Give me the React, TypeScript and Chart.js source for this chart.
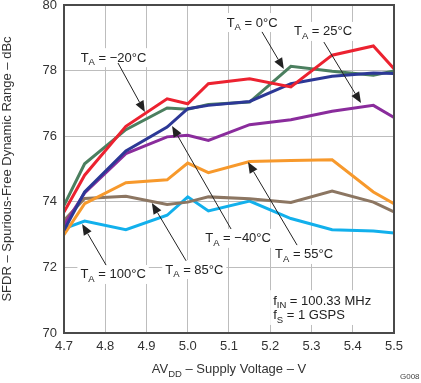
import React, { useEffect, useRef } from "react";
import { Chart, registerables } from "chart.js";

Chart.register(...registerables);

const voltages = [4.7, 4.75, 4.85, 4.95, 5.0, 5.05, 5.15, 5.25, 5.35, 5.45, 5.5];
const sfdrMinus20 = [73.69, 74.81, 76.3, 77.14, 76.99, 77.6, 77.75, 77.5, 78.47, 78.75, 78.06];
const sfdrMinus40 = [73.13, 74.3, 75.55, 76.28, 76.84, 76.94, 77.06, 77.6, 77.83, 77.93, 77.91];
const sfdr0 = [73.89, 75.16, 76.2, 76.86, 76.82, 76.97, 77.04, 78.13, 77.98, 77.86, 77.99];
const sfdr25 = [73.28, 74.27, 75.47, 75.98, 76.03, 75.87, 76.35, 76.5, 76.76, 76.94, 76.57];
const sfdr55 = [73.0, 73.94, 74.58, 74.67, 75.18, 74.89, 75.23, 75.26, 75.28, 74.3, 73.94];
const sfdr85 = [73.43, 74.1, 74.17, 73.92, 73.99, 74.15, 74.09, 73.98, 74.33, 73.99, 73.69];
const sfdr100 = [73.18, 73.41, 73.15, 73.59, 74.15, 73.72, 74.02, 73.49, 73.15, 73.11, 73.05];

const seriesLabels = ["−20°C", "−40°C", "0°C", "25°C", "55°C", "85°C", "100°C"];
const seriesValues = [sfdrMinus20, sfdrMinus40, sfdr0, sfdr25, sfdr55, sfdr85, sfdr100];
const seriesColors = ["#ec2230", "#2c3896", "#4b7f5f", "#8a2c9c", "#f7992c", "#8c7662", "#12b0ec"];

const xTicks = { min: 4.7, max: 5.5, step: 0.1 };
const yTicks = { min: 70, max: 80, step: 2 };

// annotation: label center (data coords), arrow start, arrow tip (data coords)
const annotations = [
  { text: " = −20°C", lx: 4.82, ly: 78.41, sx: 4.831, sy: 78.23, tx: 4.896, ty: 76.74 },
  { text: " = 0°C", lx: 5.156, ly: 79.48, sx: 5.18, sy: 79.18, tx: 5.233, ty: 78.05 },
  { text: " = 25°C", lx: 5.328, ly: 79.21, sx: 5.33, sy: 78.87, tx: 5.42, ty: 77.01 },
  { text: " = −40°C", lx: 5.122, ly: 72.9, sx: 5.105, sy: 73.17, tx: 4.962, ty: 76.31 },
  { text: " = 55°C", lx: 5.282, ly: 72.41, sx: 5.265, sy: 72.68, tx: 5.146, ty: 75.21 },
  { text: " = 85°C", lx: 5.016, ly: 71.95, sx: 4.996, sy: 72.2, tx: 4.913, ty: 73.96 },
  { text: " = 100°C", lx: 4.819, ly: 71.8, sx: 4.802, sy: 72.07, tx: 4.744, ty: 73.32 },
];

const FONT = "Arial, 'Liberation Sans', sans-serif";

type Part = { t: string; sub?: boolean };

function partsWidth(ctx: CanvasRenderingContext2D, parts: Part[], size: number, subSize: number) {
  let w = 0;
  for (const p of parts) {
    ctx.font = `${p.sub ? subSize : size}px ${FONT}`;
    w += ctx.measureText(p.t).width;
  }
  return w;
}

function drawParts(ctx: CanvasRenderingContext2D, parts: Part[], x: number, baseline: number, size: number, subSize: number, subDrop: number) {
  let cx = x;
  ctx.textAlign = "left";
  ctx.textBaseline = "alphabetic";
  for (const p of parts) {
    ctx.font = `${p.sub ? subSize : size}px ${FONT}`;
    ctx.fillText(p.t, cx, baseline + (p.sub ? subDrop : 0));
    cx += ctx.measureText(p.t).width;
  }
}

const annotationPlugin = {
  id: "annotationsTI",
  beforeDatasetsDraw(chart: any) {
    const ctx = chart.ctx as CanvasRenderingContext2D;
    const xs = chart.scales.x;
    const ys = chart.scales.y;
    ctx.save();
    ctx.fillStyle = "#ffffff";
    for (const a of annotations) {
      const parts: Part[] = [{ t: "T" }, { t: "A", sub: true }, { t: a.text }];
      const w = partsWidth(ctx, parts, 13, 9.5);
      const cx = xs.getPixelForValue(a.lx);
      const cy = ys.getPixelForValue(a.ly);
      ctx.fillRect(cx - w / 2 - 3, cy - 9, w + 6, 19);
    }
    // fIN box
    const bx = xs.getPixelForValue(5.207);
    const by1 = ys.getPixelForValue(71.0);
    const by2 = ys.getPixelForValue(70.55);
    ctx.fillRect(bx - 3, by1 - 10, 110, by2 - by1 + 20);
    ctx.restore();
  },
  afterDatasetsDraw(chart: any) {
    const ctx = chart.ctx as CanvasRenderingContext2D;
    const xs = chart.scales.x;
    const ys = chart.scales.y;
    const area = chart.chartArea;
    ctx.save();
    // arrows
    for (const a of annotations) {
      const sx = xs.getPixelForValue(a.sx);
      const sy = ys.getPixelForValue(a.sy);
      const tx = xs.getPixelForValue(a.tx);
      const ty = ys.getPixelForValue(a.ty);
      const ang = Math.atan2(ty - sy, tx - sx);
      const L = 11;
      const H = 4.5;
      const bxp = tx - L * Math.cos(ang);
      const byp = ty - L * Math.sin(ang);
      ctx.strokeStyle = "#222";
      ctx.lineWidth = 1;
      ctx.beginPath();
      ctx.moveTo(sx, sy);
      ctx.lineTo(bxp, byp);
      ctx.stroke();
      ctx.fillStyle = "#222";
      ctx.beginPath();
      ctx.moveTo(tx, ty);
      ctx.lineTo(bxp + H * Math.sin(ang), byp - H * Math.cos(ang));
      ctx.lineTo(bxp - H * Math.sin(ang), byp + H * Math.cos(ang));
      ctx.closePath();
      ctx.fill();
    }
    // labels
    ctx.fillStyle = "#222";
    for (const a of annotations) {
      const parts: Part[] = [{ t: "T" }, { t: "A", sub: true }, { t: a.text }];
      const w = partsWidth(ctx, parts, 13, 9.5);
      const cx = xs.getPixelForValue(a.lx);
      const cy = ys.getPixelForValue(a.ly);
      drawParts(ctx, parts, cx - w / 2, cy + 4.5, 13, 9.5, 3.5);
    }
    const bx = xs.getPixelForValue(5.207);
    drawParts(ctx, [{ t: "f" }, { t: "IN", sub: true }, { t: " = 100.33 MHz" }], bx, ys.getPixelForValue(71.0) + 4.5, 13, 9.5, 3.5);
    drawParts(ctx, [{ t: "f" }, { t: "S", sub: true }, { t: " = 1 GSPS" }], bx, ys.getPixelForValue(70.55) + 4.5, 13, 9.5, 3.5);

    // frame
    ctx.strokeStyle = "#4a4a4a";
    ctx.lineWidth = 2;
    ctx.strokeRect(area.left, area.top, area.right - area.left, area.bottom - area.top);

    // axis titles
    ctx.fillStyle = "#333";
    const xParts: Part[] = [{ t: "AV" }, { t: "DD", sub: true }, { t: " – Supply Voltage – V" }];
    const xw = partsWidth(ctx, xParts, 13, 9.5);
    const xc = (area.left + area.right) / 2;
    drawParts(ctx, xParts, xc - xw / 2, 373, 13, 9.5, 3.5);

    ctx.save();
    ctx.translate(11, (area.top + area.bottom) / 2);
    ctx.rotate(-Math.PI / 2);
    ctx.font = `13px ${FONT}`;
    ctx.textAlign = "center";
    ctx.textBaseline = "alphabetic";
    ctx.fillText("SFDR – Spurious-Free Dynamic Range – dBc", 0, 0);
    ctx.restore();

    ctx.font = `8px ${FONT}`;
    ctx.fillStyle = "#444";
    ctx.textAlign = "left";
    ctx.fillText("G008", 400, 379);
    ctx.restore();
  },
};

export default function App() {
  const ref = useRef<HTMLCanvasElement>(null);
  useEffect(() => {
    document.body.style.margin = "0";
    if (!ref.current) return;
    const chart = new Chart(ref.current, {
      type: "line",
      data: {
        datasets: seriesValues.map((vals, i) => ({
          label: seriesLabels[i],
          data: vals.map((v, j) => ({ x: voltages[j], y: v })),
          borderColor: seriesColors[i],
          backgroundColor: seriesColors[i],
          borderWidth: 3,
          pointRadius: 0,
          tension: 0,
          fill: false,
        })),
      },
      options: {
        animation: false,
        responsive: false,
        devicePixelRatio: 1,
        layout: { padding: { top: 5, right: 27, left: 0, bottom: 0 } },
        plugins: { legend: { display: false }, tooltip: { enabled: false } },
        scales: {
          x: {
            type: "linear",
            min: xTicks.min,
            max: xTicks.max,
            ticks: {
              stepSize: xTicks.step,
              font: { family: FONT, size: 13 },
              color: "#333",
              padding: 6,
              maxRotation: 0,
              callback: (v: any) => Number(v).toFixed(1),
            },
            grid: { color: "#bdbdbd", lineWidth: 1, drawTicks: false },
            border: { display: false },
            afterFit: (s: any) => {
              s.height = 50;
              s.paddingLeft = 0;
              s.paddingRight = 0;
            },
          },
          y: {
            min: yTicks.min,
            max: yTicks.max,
            ticks: {
              stepSize: yTicks.step,
              font: { family: FONT, size: 13 },
              color: "#333",
              padding: 7,
            },
            grid: { color: "#bdbdbd", lineWidth: 1, drawTicks: false },
            border: { display: false },
            afterFit: (s: any) => {
              s.width = 64;
              s.paddingTop = 0;
              s.paddingBottom = 0;
            },
          },
        },
      },
      plugins: [annotationPlugin],
    });
    return () => chart.destroy();
  }, []);
  return (
    <div style={{ width: 421, height: 383 }}>
      <canvas ref={ref} width={421} height={383} />
    </div>
  );
}
